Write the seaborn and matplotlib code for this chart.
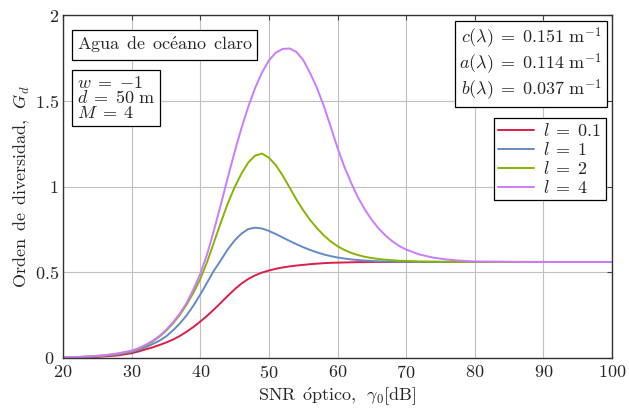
import numpy as np
import pandas as pd
import matplotlib
matplotlib.use("Agg")
import matplotlib.pyplot as plt
import matplotlib.transforms as mtransforms
import seaborn as sns

# ---- data ----
snr_db = [20, 22, 24, 26, 28, 30, 31, 32, 33, 34, 35, 36, 37, 38, 39, 40, 41, 42, 43, 44,
          45, 46, 47, 48, 49, 50, 51, 52, 53, 54, 55, 56, 57, 58, 59, 60, 61, 62, 63, 64,
          65, 66, 67, 68, 69, 70, 72, 74, 76, 78, 80, 85, 90, 100]

g_l01 = [0.002, 0.003, 0.005, 0.009, 0.015, 0.028, 0.038, 0.05, 0.061, 0.075, 0.09, 0.107,
         0.128, 0.153, 0.181, 0.212, 0.246, 0.283, 0.322, 0.362, 0.4, 0.434, 0.461, 0.482,
         0.498, 0.51, 0.52, 0.528, 0.534, 0.539, 0.543, 0.547, 0.55, 0.553, 0.555, 0.556,
         0.557, 0.558, 0.559, 0.559, 0.56, 0.56, 0.56, 0.56, 0.56, 0.56, 0.56, 0.56, 0.56,
         0.56, 0.56, 0.56, 0.56, 0.56]
g_l1 = [0.003, 0.005, 0.008, 0.013, 0.021, 0.036, 0.048, 0.062, 0.08, 0.1, 0.125, 0.16,
        0.2, 0.248, 0.305, 0.37, 0.44, 0.51, 0.57, 0.633, 0.685, 0.725, 0.752, 0.76, 0.755,
        0.741, 0.723, 0.703, 0.683, 0.664, 0.646, 0.63, 0.616, 0.604, 0.594, 0.586, 0.58,
        0.575, 0.571, 0.568, 0.566, 0.564, 0.563, 0.562, 0.561, 0.561, 0.56, 0.56, 0.56,
        0.56, 0.56, 0.56, 0.56, 0.56]
g_l2 = [0.003, 0.005, 0.009, 0.015, 0.025, 0.041, 0.054, 0.071, 0.094, 0.123, 0.158, 0.2,
        0.25, 0.31, 0.38, 0.46, 0.56, 0.675, 0.79, 0.9, 0.995, 1.075, 1.14, 1.18, 1.192,
        1.168, 1.125, 1.065, 0.995, 0.925, 0.862, 0.805, 0.757, 0.715, 0.68, 0.652, 0.63,
        0.613, 0.6, 0.59, 0.583, 0.577, 0.573, 0.57, 0.567, 0.566, 0.563, 0.562, 0.561,
        0.56, 0.56, 0.56, 0.56, 0.56]
g_l4 = [0.003, 0.006, 0.01, 0.016, 0.027, 0.043, 0.057, 0.076, 0.099, 0.127, 0.163, 0.207,
        0.258, 0.32, 0.4, 0.49, 0.605, 0.745, 0.895, 1.05, 1.2, 1.34, 1.465, 1.575, 1.665,
        1.735, 1.78, 1.802, 1.805, 1.785, 1.738, 1.662, 1.575, 1.47, 1.35, 1.225, 1.115,
        1.02, 0.935, 0.865, 0.805, 0.755, 0.714, 0.68, 0.653, 0.632, 0.603, 0.585, 0.574,
        0.567, 0.563, 0.561, 0.56, 0.56]

series_labels = [r"$l\;=\;0.1$", r"$l\;=\;1$", r"$l\;=\;2$", r"$l\;=\;4$"]
series_values = [g_l01, g_l1, g_l2, g_l4]
colors = ["#DC1E4A", "#648AC6", "#88B400", "#CC7AFF"]

xticks = [20, 30, 40, 50, 60, 70, 80, 90, 100]
yticks = [0, 0.5, 1, 1.5, 2]
ytick_labels = ["0", "0.5", "1", "1.5", "2"]

df = pd.concat(
    [pd.DataFrame({"snr": snr_db, "G": v, "serie": lab})
     for lab, v in zip(series_labels, series_values)],
    ignore_index=True,
)

# ---- style ----
sns.set_style("white")
plt.rcParams["font.family"] = "serif"
plt.rcParams["font.serif"] = ["cmr10", "DejaVu Serif"]
plt.rcParams["mathtext.fontset"] = "cm"
plt.rcParams["axes.formatter.use_mathtext"] = True
plt.rcParams["axes.unicode_minus"] = False

FS = 13
SP = r"\ \,"  # word space

fig = plt.figure(figsize=(6.29, 4.17), dpi=100)
ax = fig.add_axes([63 / 629, 1 - 358 / 417, (612 - 63) / 629, (358 - 15) / 417])

sns.lineplot(data=df, x="snr", y="G", hue="serie", palette=colors, ax=ax,
             linewidth=1.4, legend=True)

ax.set_xlim(20, 100)
ax.set_ylim(0, 2)
ax.set_xticks(xticks)
ax.set_xticklabels([rf"$\mathrm{{{t}}}$" for t in xticks])
ax.set_yticks(yticks)
ax.set_yticklabels([rf"$\mathrm{{{t}}}$" for t in ytick_labels])
ax.tick_params(direction="in", length=3.5, width=0.8, labelsize=FS,
               top=True, right=True, color="#444444")
ax.tick_params(axis="x", pad=4)
ax.tick_params(axis="y", pad=3)
ax.grid(True, color="#c0c0c0", linewidth=0.8)
ax.set_axisbelow(True)
for s in ax.spines.values():
    s.set_color("#333333")
    s.set_linewidth(1.0)

# nudge the "0" y tick label a little left so it does not collide with "20"
first = ax.get_yticklabels()[0]
first.set_transform(first.get_transform() +
                    mtransforms.ScaledTranslation(-4 / 100, 0, fig.dpi_scale_trans))

ax.set_xlabel(r"$\mathrm{SNR" + SP + r"\acute{o}ptico,}" + SP + r"\gamma_0\mathrm{[dB]}$",
              fontsize=FS, labelpad=4)
ax.set_ylabel(r"$\mathrm{Orden" + SP + "de" + SP + "diversidad,}" + SP + "G_d$",
              fontsize=FS, labelpad=2)

leg = ax.legend(loc="upper right", bbox_to_anchor=(0.989, 0.70), fontsize=FS,
                frameon=True, fancybox=False, edgecolor="black", framealpha=1,
                handlelength=2.0, handletextpad=0.5, borderpad=0.25, labelspacing=0.1,
                borderaxespad=0.0)
leg.get_frame().set_linewidth(0.9)

box = dict(boxstyle="square,pad=0.25", facecolor="white", edgecolor="black", linewidth=0.9)
ax.text(0.025, 0.9125,
        r"$\mathrm{Agua" + SP + "de" + SP + r"oc\acute{e}ano" + SP + "claro}$",
        transform=ax.transAxes, fontsize=FS, va="center", ha="left", bbox=box)
ax.text(0.025, 0.758, r"$w\;=\;{-1}$" + "\n" + r"$d\;=\;50\ \mathrm{m}$" + "\n" + r"$M\;=\;4$",
        transform=ax.transAxes, fontsize=FS, va="center", ha="left", linespacing=0.9, bbox=box)
ax.text(0.982, 0.857,
        r"$c(\lambda)\;=\;0.151\ \mathrm{m}^{-1}$" + "\n" + r"$a(\lambda)\;=\;0.114\ \mathrm{m}^{-1}$"
        + "\n" + r"$b(\lambda)\;=\;0.037\ \mathrm{m}^{-1}$",
        transform=ax.transAxes, fontsize=FS, va="center", ha="right", linespacing=1.05, bbox=box)

fig.savefig("out.png", dpi=100)
